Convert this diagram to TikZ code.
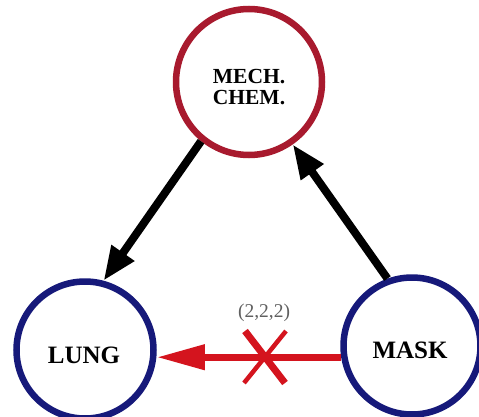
\documentclass[tikz,border=0pt]{standalone}
\usepackage{fontspec}
\setmainfont{Liberation Serif}
\usetikzlibrary{arrows.meta}
\definecolor{ringred}{HTML}{A81A2E}
\definecolor{ringblue}{HTML}{16197A}
\definecolor{flowred}{HTML}{D4141E}
\definecolor{labelgray}{HTML}{606060}
\tikzset{
  ring/.style={circle, draw=#1, line width=6.5pt, fill=white, inner sep=0pt},
  bigword/.style={font=\bfseries\fontsize{25}{27}\selectfont, inner sep=0pt},
  smallword/.style={font=\bfseries\fontsize{21.5}{22}\selectfont, align=center, inner sep=0pt},
  flow/.style={line width=8pt, -{Triangle[length=34pt, width=26pt]}},
  blocked/.style={draw=flowred, line width=7pt, -{Triangle[length=48pt, width=24pt]}},
  cross/.style={draw=flowred, line cap=butt},
}
\begin{document}
\begin{tikzpicture}[x=1pt, y=1pt]
  \useasboundingbox (0,0) rectangle (479,416);
  \fill[white] (0,0) rectangle (479,416);

  % the three compartments
  \node[ring=ringred, minimum size=146pt] (chem) at (249,334) {};
  \node[ring=ringblue, minimum size=137pt] (lung) at (85,66) {};
  \node[ring=ringblue, minimum size=137pt] (mask) at (412,70) {};

  \node[smallword] (chemtxt) at (249,329) {MECH.\\[-1pt]CHEM.};
  \node[bigword] (lungtxt) at (84,61) {LUNG};
  \node[bigword] (masktxt) at (410,66) {MASK};

  % open transfer paths
  \draw[flow] (chem.231) -- (lung.75);
  \draw[flow] (mask.110) -- (chem.305);

  % blocked direct path
  \coordinate (redstart) at (mask.189);
  \coordinate (redend) at (redstart -| lung.east);
  \draw[blocked] (redstart) -- (redend);

  \coordinate (xc) at (265,59);
  \draw[cross, line width=7pt] ([shift={(-20,26)}]xc) -- ([shift={(20,-26)}]xc);
  \draw[cross, line width=4.5pt] ([shift={(21,26)}]xc) -- ([shift={(-21,-26)}]xc);

  \node[text=labelgray, font=\fontsize{19.5}{21}\selectfont, inner sep=0pt] (code) at (264,103) {(2,2,2)};
\end{tikzpicture}
\end{document}
